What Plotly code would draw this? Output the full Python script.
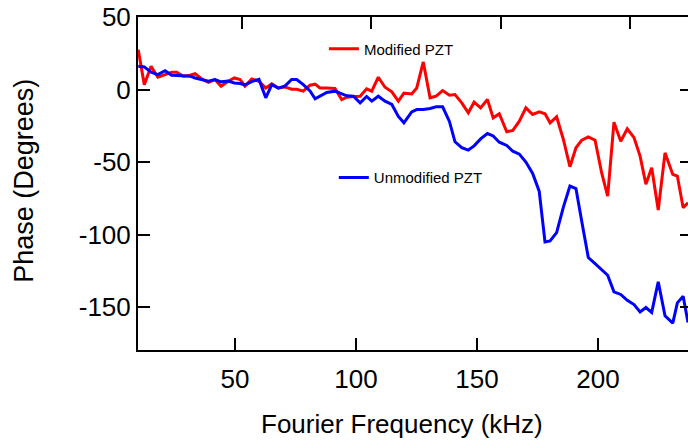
import plotly.graph_objects as go

# Fourier frequency grid (kHz) shared by both curves
freq_khz = [
    10.0, 12.5, 15.3, 18.1, 21.1, 23.8, 25.9, 28.6, 31.4, 33.5,
    36.2, 39.0, 41.7, 44.2, 47.2, 49.7, 52.1, 54.1, 56.9, 59.9,
    62.7, 65.2, 67.9, 70.7, 73.4, 75.5, 78.2, 81.0, 83.1, 85.1,
    87.9, 91.3, 94.1, 96.2, 98.9, 101.7, 104.4, 106.5, 109.2, 112.0,
    114.8, 117.5, 119.8, 123.0, 125.1, 127.8, 130.6, 133.1, 135.8, 138.6,
    140.9, 143.7, 146.4, 148.8, 151.5, 154.3, 156.7, 159.2, 162.3, 164.8,
    167.5, 170.2, 173.0, 175.7, 178.1, 180.2, 182.9, 185.7, 188.4, 190.9,
    193.3, 196.0, 198.8, 201.5, 204.0, 206.6, 209.4, 212.1, 214.9, 217.4,
    219.8, 222.2, 224.9, 227.7, 230.9, 232.8, 235.2, 237.2,
]

phase_modified = [
    27.5, 3.4, 16, 8.5, 10.3, 11.9, 12, 9.2, 9.9, 11,
    7.3, 5, 6.9, 2.3, 5.7, 8, 6.9, 2.3, 7.3, 5.7,
    1.1, 3.9, 1.1, 1.8, 0.2, 0.2, -1.1, 3, 3.7, 1.1,
    1, 0.7, -6.9, -5.3, -4.8, -4.6, 0.5, -1.1, 8.5, 1.6,
    -1.6, -8, -2.5, -3, 1.1, 19, -5.7, -4.6, -0.7, -3.9,
    -3.4, -9.2, -16, -8.7, -12.6, -6.9, -19.5, -16.7, -29.1, -28.2,
    -21.8, -12.6, -17.2, -15.4, -16.7, -22.9, -18.8, -34.4, -53.2, -40.1,
    -34.9, -32.6, -34.9, -57.3, -73.4, -22.5, -35.6, -27, -33.2, -45.9,
    -65.3, -53.9, -83, -43.6, -58.5, -59.6, -81.4, -78,
]

phase_unmodified = [
    16, 15.6, 12, 10.3, 13, 9.9, 9.7, 9.6, 9.2, 8,
    6.9, 5.7, 6.9, 5.3, 5.8, 4.5, 4.1, 3.2, 5.5, 7,
    -5.7, 3.4, 1, 2.5, 6.9, 6.9, 3.4, -1, -6.4, -4.5,
    -2, -1.1, -3, -4.3, -4.6, -9.2, -4.8, -8, -4.6, -8,
    -10.3, -18.5, -22.9, -15.4, -13.8, -13.8, -13, -11.9, -11.9, -22,
    -36, -40.1, -41.7, -38.8, -34, -30.3, -32, -36.3, -38.5, -42.5,
    -44.5, -50, -57.8, -70, -105, -104.3, -98.6, -81, -66.5, -68.3,
    -91, -115.8, -120, -124.5, -128, -139.4, -141.2, -145.3, -148.2, -153.3,
    -150.2, -153.6, -132.5, -155.9, -161, -147, -142.4, -160.5,
]

x_ticks = [50, 100, 150, 200]
y_ticks = [-150, -100, -50, 0, 50]
y_tick_text = ['-150', '-100', '-50', '0', '50']
top_ticks = [52.8, 106.1, 159.8, 213.2]

x_range = [9.9, 237.2]
y_range = [-179.5, 50]

font_family = 'Liberation Sans, Arial, sans-serif'

fig = go.Figure()

fig.add_trace(
    go.Scatter(
        x=freq_khz,
        y=phase_modified,
        mode='lines',
        name='Modified PZT',
        line=dict(color='#ff0000', width=3),
        legend='legend',
        showlegend=True,
    )
)
fig.add_trace(
    go.Scatter(
        x=freq_khz,
        y=phase_unmodified,
        mode='lines',
        name='Unmodified PZT',
        line=dict(color='#0000ff', width=3),
        legend='legend2',
        showlegend=True,
    )
)
# empty traces so the top and right tick-only axes get drawn
fig.add_trace(go.Scatter(x=[], y=[], xaxis='x2', yaxis='y', showlegend=False, hoverinfo='skip'))
fig.add_trace(go.Scatter(x=[], y=[], xaxis='x', yaxis='y2', showlegend=False, hoverinfo='skip'))

legend_style = dict(
    font=dict(family=font_family, size=15, color='black'),
    bgcolor='rgba(0,0,0,0)',
    borderwidth=0,
    xanchor='left',
    yanchor='middle',
    itemwidth=30,
    visible=True,
)

fig.update_layout(
    width=688,
    height=445,
    margin=dict(l=138, r=0, t=17, b=95),
    showlegend=True,
    plot_bgcolor='white',
    paper_bgcolor='white',
    font=dict(family=font_family, color='black'),
    legend=dict(x=0.338, y=0.904, **legend_style),
    legend2=dict(x=0.356, y=0.517, **legend_style),
    xaxis=dict(
        range=x_range,
        tickvals=x_ticks,
        ticks='inside',
        ticklen=12,
        tickwidth=2,
        tickcolor='black',
        showline=True,
        linecolor='black',
        linewidth=2,
        showgrid=False,
        zeroline=False,
        tickfont=dict(size=26, color='black'),
        ticklabelstandoff=5,
    ),
    xaxis2=dict(
        range=x_range,
        overlaying='x',
        side='top',
        tickvals=top_ticks,
        ticks='inside',
        ticklen=12,
        tickwidth=2,
        tickcolor='black',
        showline=True,
        linecolor='black',
        linewidth=2,
        showgrid=False,
        zeroline=False,
        showticklabels=False,
    ),
    yaxis=dict(
        range=y_range,
        tickvals=y_ticks,
        ticktext=y_tick_text,
        ticks='inside',
        ticklen=12,
        tickwidth=2,
        tickcolor='black',
        showline=True,
        linecolor='black',
        linewidth=2,
        showgrid=False,
        zeroline=False,
        tickfont=dict(size=26, color='black'),
        ticklabelstandoff=0,
    ),
    yaxis2=dict(
        range=y_range,
        overlaying='y',
        side='right',
        tickvals=y_ticks,
        ticks='inside',
        ticklen=8,
        tickwidth=2,
        tickcolor='black',
        showline=False,
        showgrid=False,
        zeroline=False,
        showticklabels=False,
    ),
    annotations=[
        dict(
            text='Fourier Frequency (kHz)',
            xref='paper', yref='paper',
            x=(401.5 - 138) / 550, y=-(425 - 350.5) / 333.5,
            xanchor='center', yanchor='middle',
            showarrow=False,
            font=dict(size=26, color='black'),
        ),
        dict(
            text='Phase (Degrees)',
            xref='paper', yref='paper',
            x=-(138 - 24) / 550, y=(350.5 - 181) / 333.5,
            xanchor='center', yanchor='middle',
            textangle=-90,
            showarrow=False,
            font=dict(size=27, color='black'),
        ),
    ],
)

# the page's default body margin shifts the figure; drop it
fig.write_html(
    'out.html',
    config={'displayModeBar': False},
    post_script="document.body.style.margin = '0';",
)
